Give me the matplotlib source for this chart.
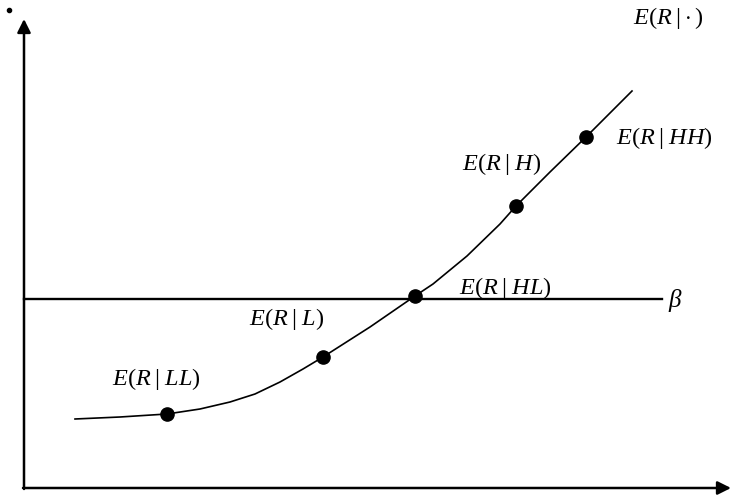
import matplotlib.pyplot as plt

curve_x = [75, 120, 167, 200, 230, 255, 280, 303, 323, 370, 415, 433, 467, 500, 516, 550, 586, 632]
curve_y = [419, 417, 414, 409, 402, 394, 382, 369, 357, 327, 296, 284, 256, 224, 206, 172, 137, 91]

# marked points on the curve
point_x = [167, 323, 415, 516, 586]
point_y = [414, 357, 296, 206, 137]

# labels: text, x, y
label_text = [r'$E(R\;|\;LL)$', r'$E(R\;|\;L)$', r'$E(R\;|\;HL)$', r'$E(R\;|\;H)$', r'$E(R\;|\;HH)$',
              r'$E(R\;|\cdot)$']
label_x = [156, 287, 505, 502, 664, 668]
label_y = [379, 319, 288, 164, 138, 18]

beta_y = 299

plt.rcParams['mathtext.fontset'] = 'custom'
plt.rcParams['mathtext.rm'] = 'Liberation Serif'
plt.rcParams['mathtext.it'] = 'Liberation Serif:italic'
plt.rcParams['font.family'] = 'Liberation Serif'

fig = plt.figure(figsize=(7.3, 4.95), dpi=100)
ax = fig.add_axes([0, 0, 1, 1])
ax.set_xlim(0, 730)
ax.set_ylim(495, 0)
ax.axis('off')

# axes with arrows
ax.annotate('', xy=(24, 19), xytext=(24, 489), annotation_clip=False,
            arrowprops=dict(arrowstyle='-|>', lw=1.8, color='black', mutation_scale=20,
                            shrinkA=0, shrinkB=0))
ax.annotate('', xy=(731, 488), xytext=(23, 488), annotation_clip=False,
            arrowprops=dict(arrowstyle='-|>', lw=1.8, color='black', mutation_scale=20,
                            shrinkA=0, shrinkB=0))
ax.plot([9], [10], 'o', color='black', markersize=3)

# beta line
ax.plot([24, 662], [beta_y, beta_y], color='black', lw=1.7)
ax.text(668, beta_y + 2, r'$\beta$', fontsize=18, ha='left', va='center')

ax.plot(curve_x, curve_y, color='black', lw=1.2)
ax.plot(point_x, point_y, 'o', color='black', markersize=9.5)

for t, x, y in zip(label_text, label_x, label_y):
    ax.text(x, y, t, fontsize=17.5, ha='center', va='center')

fig.savefig('out.png', dpi=100)
